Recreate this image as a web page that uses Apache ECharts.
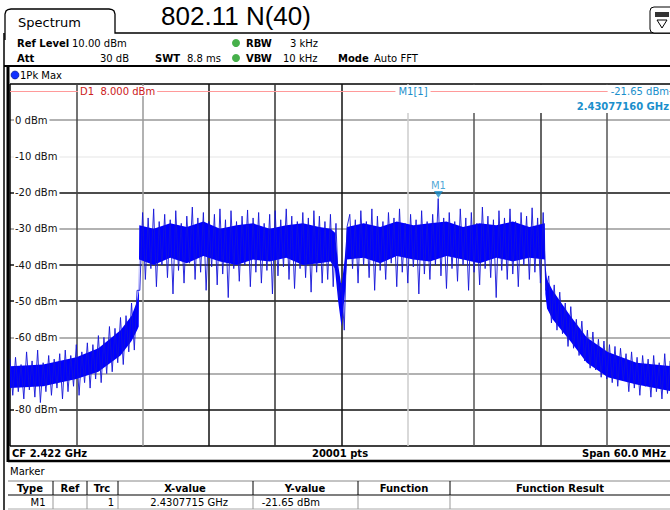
<!DOCTYPE html>
<html><head><meta charset="utf-8">
<script src="https://cdn.jsdelivr.net/npm/echarts@6/dist/echarts.min.js"></script>
<style>html,body{margin:0;padding:0;background:#fff;}#c{width:670px;height:510px;}</style>
</head><body><div id="c"></div>
<script>
// ---- data ----
const centerFreqGHz = 2.422;
const spanMHz = 60;
const levelTicks = [0, -10, -20, -30, -40, -50, -60, -70, -80];
const levelTickLabels = ['0 dBm', '-10 dBm', '-20 dBm', '-30 dBm', '-40 dBm', '-50 dBm', '-60 dBm', '-70 dBm', '-80 dBm'];

// peak trace samples (offset from CF in MHz, regular sweep points)
const traceStartMHz = -30;
const traceStepMHz = 0.25;
const traceLevels = [
  -66, -76, -65.5, -75, -67.5, -77, -64, -74.5, -66.5, -76.5,
  -63.5, -78, -67, -75, -65, -76, -66, -74, -64.5, -77,
  -63.5, -75, -65, -73.5, -62, -76, -64, -72.5, -61.5, -74,
  -62, -71.5, -59.5, -72.5, -60, -70, -57, -69.5, -57.5, -67,
  -54.5, -67.5, -54, -64, -50.5, -63.5, -47, -47, -25.5, -44,
  -27, -41, -24.5, -46, -28, -40, -26, -43.5, -27.5, -48,
  -25, -41.5, -28.5, -45, -26.5, -39.5, -24, -44, -27, -42,
  -25.5, -47, -28, -40.5, -26, -45.5, -24.5, -42.5, -27.5, -49,
  -25, -41, -28, -44.5, -26.5, -40, -24.8, -46, -27, -42,
  -25.5, -45, -28.5, -41.5, -26, -48, -25, -43, -27.5, -40.5,
  -24.5, -44, -26.5, -46.5, -28, -41, -25.5, -43.5, -27, -47.5,
  -25, -42, -26.5, -45, -28, -44, -26, -46, -28.5, -49,
  -45, -58, -29.5, -26, -41, -27.5, -45, -25, -40, -28,
  -43.5, -24.5, -47, -26.5, -41.5, -28, -44, -25.5, -39.5, -27,
  -46, -24.5, -42, -28.5, -45, -26, -40.5, -27.5, -48, -25,
  -42.5, -28, -44, -26, -40, -21.65, -43, -27, -46.5, -25.5,
  -41, -28, -44.5, -24.5, -40, -27, -47, -25.5, -42, -28.5,
  -45.5, -24, -41, -26.5, -43.5, -27.5, -49, -25, -41.5, -27,
  -44, -24.5, -42.5, -28, -46, -25.5, -40, -26.5, -44, -24.2,
  -42, -27, -45, -25.5, -47, -43, -56, -45.5, -58, -47.5,
  -59, -50.5, -62.5, -51.5, -63, -55, -65, -55.5, -66.5, -58,
  -68.5, -58.5, -69, -60.5, -71, -61, -71.5, -62, -72.5, -62.5,
  -73.5, -63, -72, -64.5, -75, -64, -74, -65.5, -76, -65,
  -73.5, -66, -76.5, -65, -75, -67, -77, -64.5, -75.5, -66.5,
  -76
];

// dense core of the trace (upper / lower edge of the solid band)
const coreFreqMHz   = [-30, -27, -24, -22, -20, -19, -18.5, -18.35,
  -18.3, -17, -15.5, -14, -12.5, -11, -9.5, -8, -6.5, -5, -3.5, -2, -1,
  -0.6, -0.3, 0, 0.3, 0.5,
  2, 3.5, 5, 6.5, 8, 9.5, 11, 12.5, 14, 15.5, 17, 18.4,
  18.45, 18.6, 19.1, 20.7, 22.2, 24.1, 26.7, 30];
const coreTopDbm    = [-68, -67.5, -65.5, -63, -58, -54, -50, -47,
  -29, -30, -28.5, -29.5, -28, -30, -29, -28.5, -30, -29, -28.5, -29.5, -30,
  -31, -40, -46, -38, -29.5,
  -28.5, -29.5, -28, -29, -28.5, -28, -29.5, -28.5, -29, -28, -29.5, -28.5,
  -40, -44, -47, -54, -60, -64, -67, -68];
const coreBottomDbm = [-74, -73.5, -71.5, -69.5, -65, -61, -58, -57,
  -38.5, -40, -38, -39.5, -37.5, -39, -40, -38.5, -39, -38, -40, -39.5, -39,
  -41, -50, -57, -48, -38.5,
  -38, -39.5, -37.5, -38.5, -39, -37.5, -38.5, -39.5, -38, -39, -38, -38.5,
  -48, -52, -55, -61, -67, -71, -73, -75];

const markerFreqGHz = 2.4307716;
const markerLevelDbm = -21.65;
const displayLineDbm = 8.0;

// ---- chart ----
const F = '"DejaVu Sans", sans-serif';
const traceData = traceLevels.map((v, i) => [traceStartMHz + i * traceStepMHz, v]);
const markerOffsetMHz = (markerFreqGHz - centerFreqGHz) * 1000;

function T(x, y, s, o) {
  return { type: 'text', x: x, y: y, z: 10, silent: true,
    style: Object.assign({ text: s, fill: '#000', font: '10px ' + F, align: 'left', verticalAlign: 'middle' }, o || {}) };
}
function L(x1, y1, x2, y2, c, w, z) {
  return { type: 'line', z: z == null ? 10 : z, silent: true, shape: { x1: x1, y1: y1, x2: x2, y2: y2 }, style: { stroke: c, lineWidth: w } };
}
const B = 'bold 10px ' + F;
const teal = '#1a8fcc';

const graphics = [
  // top tab + frame
  { type: 'polyline', z: 10, silent: true, shape: { points: [[5, 40], [5, 14], [6, 11], [8, 9.5], [11, 9], [109, 9], [112, 9.5], [114, 11], [115, 14], [115, 33], [670, 33]] }, style: { fill: null, stroke: '#000', lineWidth: 1.3 } },
  T(18, 22, 'Spectrum', { font: '13px ' + F }),
  T(236, 16, '802.11 N(40)', { font: '26px "Liberation Sans", Arial, sans-serif', align: 'center' }),
  { type: 'rect', z: 10, silent: true, shape: { x: 650, y: 7, width: 24, height: 26, r: 4 }, style: { fill: '#fff', stroke: '#000', lineWidth: 1 } },
  { type: 'rect', z: 10, silent: true, shape: { x: 655, y: 12, width: 14, height: 5 }, style: { fill: '#333' } },
  { type: 'polygon', z: 10, silent: true, shape: { points: [[657, 20], [667, 20], [662, 28]] }, style: { fill: null, stroke: '#000', lineWidth: 1 } },
  L(4, 33, 4, 510, '#000', 1.5),
  L(8, 66, 8, 462, '#000', 3),
  L(4, 66, 670, 66, '#000', 2),
  // settings rows
  T(17, 43, 'Ref Level', { font: B }), T(72, 43, '10.00 dBm'),
  { type: 'circle', z: 10, silent: true, shape: { cx: 236, cy: 43, r: 4 }, style: { fill: '#46b04a' } },
  T(246, 43, 'RBW', { font: B }), T(290, 43, '3 kHz'),
  T(17, 58, 'Att', { font: B }), T(129, 58, '30 dB', { align: 'right' }),
  T(155, 58, 'SWT', { font: B }), T(187, 58, '8.8 ms'),
  { type: 'circle', z: 10, silent: true, shape: { cx: 236, cy: 58, r: 4 }, style: { fill: '#46b04a' } },
  T(246, 58, 'VBW', { font: B }), T(283, 58, '10 kHz'),
  T(338, 58, 'Mode', { font: B }), T(374, 58, 'Auto FFT'),
  // trace label row
  { type: 'circle', z: 10, silent: true, shape: { cx: 15, cy: 75, r: 4 }, style: { fill: '#1030ff', stroke: '#001080', lineWidth: 0.6 } },
  T(20, 75, '1Pk Max'),
  // white area behind marker readout
  { type: 'rect', z: 1, silent: true, shape: { x: 345, y: 85, width: 330, height: 28 }, style: { fill: '#fff' } },
  T(78, 91, 'D1  8.000 dBm', { fill: '#cc2020', backgroundColor: '#fff', padding: [0, 2, 0, 2] }),
  T(413, 91, 'M1[1]', { fill: teal, align: 'center', backgroundColor: '#fff', padding: [0, 3, 0, 3] }),
  T(669, 91, '-21.65 dBm', { fill: teal, align: 'right', backgroundColor: '#fff', padding: [0, 0, 0, 3] }),
  T(669, 106, '2.43077160 GHz', { fill: teal, align: 'right', font: B }),
  // bottom status row
  T(12, 453, 'CF 2.422 GHz', { font: B }),
  T(340, 453, '20001 pts', { font: B, align: 'center' }),
  T(666, 453, 'Span 60.0 MHz', { font: B, align: 'right' }),
  L(8, 461, 670, 461, '#000', 2.5),
  // marker table
  T(10, 471, 'Marker'),
  L(8, 481, 670, 481, '#888', 1),
  L(8, 495, 670, 495, '#000', 1.2),
  L(8, 509, 670, 509, '#aaa', 1),
  L(53, 481, 53, 495, '#000', 1), L(87, 481, 87, 495, '#000', 1), L(118, 481, 118, 495, '#000', 1),
  L(253, 481, 253, 495, '#000', 1), L(358, 481, 358, 495, '#000', 1), L(450, 481, 450, 495, '#000', 1),
  L(53, 496, 53, 509, '#999', 1), L(87, 496, 87, 509, '#999', 1), L(118, 496, 118, 509, '#999', 1),
  L(253, 496, 253, 509, '#999', 1), L(358, 496, 358, 509, '#999', 1), L(450, 496, 450, 509, '#999', 1),
  T(30, 488, 'Type', { font: B, align: 'center' }),
  T(70, 488, 'Ref', { font: B, align: 'center' }),
  T(102, 488, 'Trc', { font: B, align: 'center' }),
  T(185, 488, 'X-value', { font: B, align: 'center' }),
  T(305, 488, 'Y-value', { font: B, align: 'center' }),
  T(404, 488, 'Function', { font: B, align: 'center' }),
  T(560, 488, 'Function Result', { font: B, align: 'center' }),
  T(38, 502, 'M1', { align: 'center' }),
  T(114, 502, '1', { align: 'right' }),
  T(228, 502, '2.4307715 GHz', { align: 'right' }),
  T(320, 502, '-21.65 dBm', { align: 'right' })
];

const chart = echarts.init(document.getElementById('c'), null, { renderer: 'svg', width: 670, height: 510 });
chart.setOption({
  animation: false,
  backgroundColor: '#fff',
  grid: { left: 10, top: 84, width: 663, height: 362, containLabel: false, outerBoundsMode: 'none' },
  xAxis: {
    type: 'value', min: -spanMHz / 2, max: spanMHz / 2, interval: 6,
    axisLine: { show: false }, axisTick: { show: false }, axisLabel: { show: false },
    splitLine: { show: true, showMinLine: true, showMaxLine: true,
      lineStyle: { width: 1.5, color: ['#000', '#444', '#999', '#111', '#333', '#111', '#ccc', '#555', '#333', '#555', '#000'] } }
  },
  yAxis: [
    { type: 'value', min: -90, max: 10, interval: 10, z: 1,
      axisLine: { show: false }, axisTick: { show: false }, splitLine: { show: false },
      axisLabel: { inside: true, margin: 4, color: '#111', fontSize: 10, fontFamily: F,
        backgroundColor: '#fff', padding: [1, 2, 1, 1], showMinLabel: false, showMaxLabel: false,
        formatter: function (v) { const k = levelTicks.indexOf(v); return k >= 0 ? levelTickLabels[k] : ''; } } },
    { type: 'value', min: -90, max: 10, interval: 10, z: 0,
      axisLine: { show: false }, axisTick: { show: false }, axisLabel: { show: false },
      splitLine: { show: true, showMinLine: true, showMaxLine: true,
        lineStyle: { width: 1.5, color: ['#000', '#111', '#999', '#999', '#111', '#111', '#999', '#111', '#eee', '#999', '#000'] } } }
  ],
  graphic: { elements: graphics },
  series: [
    { type: 'custom', z: 2, silent: true, clip: true, yAxisIndex: 0,
      data: [[coreFreqMHz[0], coreTopDbm[0]]],
      renderItem: function (params, api) {
        const pts = [];
        for (let i = 0; i < coreFreqMHz.length; i++) pts.push(api.coord([coreFreqMHz[i], coreTopDbm[i]]));
        for (let i = coreFreqMHz.length - 1; i >= 0; i--) pts.push(api.coord([coreFreqMHz[i], coreBottomDbm[i]]));
        return { type: 'polygon', shape: { points: pts }, style: { fill: '#0000ff' } };
      } },
    { type: 'line', z: 3, silent: true, yAxisIndex: 0, data: traceData, symbol: 'none',
      lineStyle: { color: '#1414d8', width: 1, opacity: 0.9 },
      markLine: { silent: true, symbol: 'none', label: { show: false }, animation: false,
        lineStyle: { color: '#ff9a9a', width: 1, type: 'solid', opacity: 1 }, data: [{ yAxis: displayLineDbm }] } },
    { type: 'scatter', z: 5, silent: true, yAxisIndex: 0,
      data: [[markerOffsetMHz, markerLevelDbm]],
      symbol: 'triangle', symbolRotate: 180, symbolSize: [9, 7], symbolOffset: [0, -4],
      itemStyle: { color: teal },
      label: { show: true, formatter: 'M1', position: 'top', distance: 1, color: teal, fontSize: 10, fontFamily: F } }
  ]
});
</script>
</body></html>
